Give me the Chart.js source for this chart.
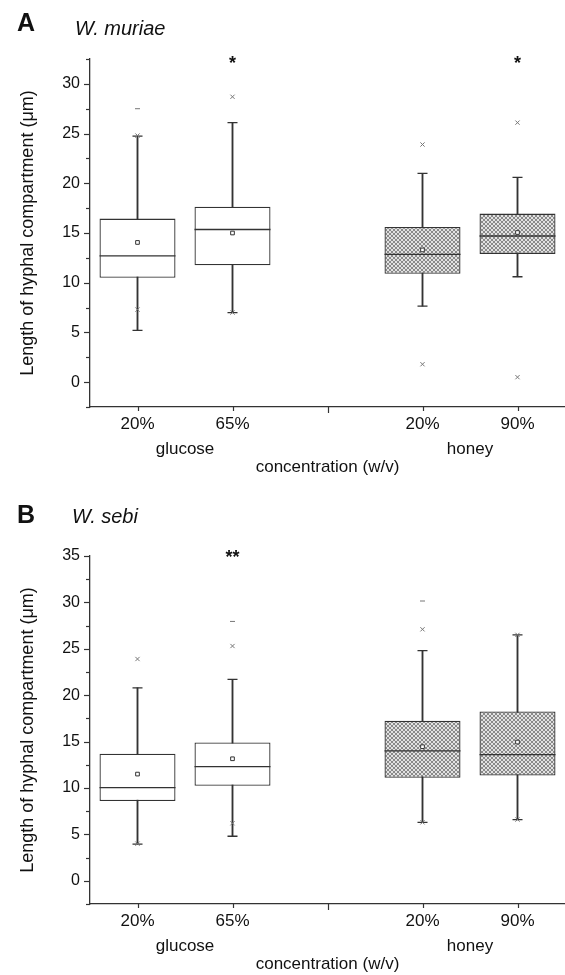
<!DOCTYPE html>
<html>
<head>
<meta charset="utf-8">
<script src="https://cdn.jsdelivr.net/npm/chart.js@4.4.1/dist/chart.umd.min.js"></script>
<style>
  body { margin: 0; background: #fff; }
  #page { position: relative; width: 565px; height: 975px; overflow: hidden;
          font-family: 'Liberation Sans', Arial, sans-serif; color: #111; }
  .panel { position: absolute; left: 0; }
  .letter { position: absolute; left: 17px; font-weight: bold; font-size: 25px; line-height: 1; }
  .species { position: absolute; font-style: italic; font-size: 20px; line-height: 1; }
</style>
</head>
<body>
<div id="page">
  <canvas id="chartA" class="panel" width="565" height="490" style="top:0"></canvas>
  <canvas id="chartB" class="panel" width="565" height="485" style="top:490px"></canvas>
  <div class="letter" style="top:10px">A</div>
  <div class="species" style="left:75px; top:18px">W. muriae</div>
  <div class="letter" style="top:502px">B</div>
  <div class="species" style="left:72px; top:506px">W. sebi</div>
</div>
<script>
const categories = ['20%', '65%', '', '20%', '90%']
const groupNames = ['glucose', 'honey']
const groupSpans = [[0, 1], [3, 4]]
const xTitle = 'concentration (w/v)'
const yTitle = 'Length of hyphal compartment (\u03bcm)'

// W. muriae
const muriaeQ1 = [10.5, 11.75, null, 10.9, 12.9]
const muriaeQ3 = [16.45, 17.65, null, 15.6, 16.95]
const muriaeMedian = [12.7, 15.35, null, 12.85, 14.7]
const muriaeMean = [14.05, 15.0, null, 13.3, 15.05]
const muriaeLow = [5.2, 7.0, null, 7.65, 10.6]
const muriaeHigh = [24.75, 26.1, null, 21.0, 20.6]
const muriaeP1 = [7.3, 7.0, null, 1.8, 0.5]
const muriaeP99 = [24.8, 28.7, null, 23.9, 26.1]
const muriaeMax = [27.5, null, null, null, null]
const muriaeStars = ['', '*', '', '', '*']
const muriaeStarLevel = 32.4
const muriaeYRange = [-2.5, 32.5]
const muriaeYLabels = [0, 5, 10, 15, 20, 25, 30]

// W. sebi
const sebiQ1 = [8.6, 10.25, null, 11.1, 11.35]
const sebiQ3 = [13.7, 14.9, null, 17.25, 18.25]
const sebiMedian = [10.05, 12.3, null, 14.0, 13.6]
const sebiMean = [11.5, 13.15, null, 14.45, 14.95]
const sebiLow = [3.95, 4.8, null, 6.3, 6.6]
const sebiHigh = [20.8, 21.7, null, 24.8, 26.5]
const sebiP1 = [4.0, 6.2, null, 6.3, 6.6]
const sebiP99 = [23.9, 25.3, null, 27.1, 26.5]
const sebiMax = [null, 27.95, null, 30.15, null]
const sebiStars = ['', '**', '', '', '']
const sebiStarLevel = 35.2
const sebiYRange = [-2.5, 35]
const sebiYLabels = [0, 5, 10, 15, 20, 25, 30, 35]

const FONT = '"Liberation Sans", Arial, sans-serif'
const INK = '#333'

function makeHatch() {
    const c = document.createElement('canvas')
    c.width = 4
    c.height = 4
    const g = c.getContext('2d')
    g.fillStyle = '#e2e2e2'
    g.fillRect(0, 0, 4, 4)
    g.fillStyle = '#8a8a8a'
    for (let i = 0; i < 4; i++) {
        g.fillRect(i, i, 1, 1)
        g.fillRect(3 - i, i, 1, 1)
    }
    return g.createPattern(c, 'repeat')
}

// ticks, group names under the axis and significance stars
const boxExtras = {
    id: 'boxExtras',
    afterDraw(chart, args, opts) {
        const {ctx, chartArea} = chart
        const x = chart.scales.x
        const y = chart.scales.y
        ctx.save()
        ctx.strokeStyle = INK
        ctx.lineWidth = 1.2
        for (const t of y.ticks) {
            const py = Math.round(y.getPixelForValue(t.value)) + 0.5
            const len = opts.yLabels.includes(t.value) ? 6 : 4
            ctx.beginPath()
            ctx.moveTo(chartArea.left - len, py)
            ctx.lineTo(chartArea.left, py)
            ctx.stroke()
        }
        categories.forEach((c, i) => {
            const px = Math.round(x.getPixelForValue(i)) + 0.5
            ctx.beginPath()
            ctx.moveTo(px, chartArea.bottom)
            ctx.lineTo(px, chartArea.bottom + (c ? 4 : 6))
            ctx.stroke()
        })
        ctx.fillStyle = '#111'
        ctx.font = '17px ' + FONT
        ctx.textAlign = 'center'
        ctx.textBaseline = 'alphabetic'
        groupNames.forEach((name, k) => {
            const [a, b] = groupSpans[k]
            const px = (x.getPixelForValue(a) + x.getPixelForValue(b)) / 2
            ctx.fillText(name, px, chartArea.bottom + 47)
        })
        ctx.font = 'bold 18px ' + FONT
        ctx.textBaseline = 'middle'
        opts.stars.forEach((s, i) => {
            if (s) ctx.fillText(s, x.getPixelForValue(i), y.getPixelForValue(opts.starLevel) + 4)
        })
        ctx.restore()
    }
}

function boxPanel(id, d) {
    const canvas = document.getElementById(id)
    const H = canvas.height
    const hatch = makeHatch()
    const honey = groupSpans[1]
    const fills = categories.map((c, i) => (i >= honey[0] && i <= honey[1]) ? hatch : '#fff')
    const pair = (a, b) => a.map((v, i) => v == null ? null : [v, b[i]])
    const marks = (data, style, radius, extra) => Object.assign({
        type: 'line', data: data, showLine: false, pointStyle: style,
        pointRadius: radius, pointBorderColor: INK, pointBorderWidth: 1.2,
        pointBackgroundColor: 'transparent', order: 0
    }, extra || {})

    return new Chart(canvas, {
        type: 'bar',
        data: {
            labels: categories,
            datasets: [
                marks(d.p1, 'crossRot', 3, {pointBorderColor: '#777', pointBorderWidth: 1}),
                marks(d.p99, 'crossRot', 3, {pointBorderColor: '#777', pointBorderWidth: 1}),
                marks(d.max, 'line', 2.5, {pointBorderColor: '#777', pointBorderWidth: 1}),
                marks(d.mean, 'rect', 2.6, {pointBackgroundColor: '#fff', pointBorderWidth: 1}),
                marks(d.median, 'line', 38, {pointBorderWidth: 1.3, order: 1}),
                marks(d.low, 'line', 5, {pointBorderWidth: 1.3, order: 1}),
                marks(d.high, 'line', 5, {pointBorderWidth: 1.3, order: 1}),
                {
                    data: pair(d.q1, d.q3),
                    backgroundColor: fills,
                    borderColor: INK,
                    borderWidth: 1.3,
                    borderSkipped: false,
                    barPercentage: 0.8,
                    categoryPercentage: 1,
                    grouped: false,
                    order: 2
                },
                {
                    data: pair(d.low, d.high),
                    backgroundColor: INK,
                    borderWidth: 0,
                    barThickness: 1.2,
                    grouped: false,
                    order: 3
                }
            ]
        },
        options: {
            responsive: false,
            animation: false,
            events: [],
            layout: {autoPadding: false, padding: {top: d.top, left: 0, right: 0, bottom: 0}},
            plugins: {
                legend: {display: false},
                tooltip: {enabled: false},
                boxExtras: {yLabels: d.yLabels, stars: d.stars, starLevel: d.starLevel}
            },
            scales: {
                x: {
                    type: 'category',
                    offset: true,
                    grid: {display: false, drawTicks: false, offset: false},
                    border: {color: INK, width: 1.3},
                    ticks: {padding: 7, color: '#111', font: {family: FONT, size: 17}, maxRotation: 0, autoSkip: false},
                    title: {display: true, text: xTitle, color: '#111', font: {family: FONT, size: 17},
                            padding: {top: 0, bottom: d.titlePad}},
                    afterFit: s => {
                        s.height = H - d.axisY
                        s.paddingLeft = 0
                        s.paddingRight = 0
                    }
                },
                y: {
                    min: d.yRange[0],
                    max: d.yRange[1],
                    grid: {display: false, drawTicks: false},
                    border: {color: INK, width: 1.3},
                    ticks: {
                        stepSize: 2.5, padding: 10, autoSkip: false, color: '#111',
                        font: {family: FONT, size: 16},
                        callback: v => d.yLabels.includes(v) ? String(v) : ''
                    },
                    title: {display: true, text: yTitle, color: '#111', font: {family: FONT, size: 18},
                            padding: {top: 17, bottom: 0}},
                    afterFit: s => { s.width = 90 }
                }
            }
        },
        plugins: [boxExtras]
    })
}

boxPanel('chartA', {
    q1: muriaeQ1, q3: muriaeQ3, median: muriaeMedian, mean: muriaeMean,
    low: muriaeLow, high: muriaeHigh, p1: muriaeP1, p99: muriaeP99, max: muriaeMax,
    stars: muriaeStars, starLevel: muriaeStarLevel, yRange: muriaeYRange, yLabels: muriaeYLabels,
    top: 59, axisY: 407, titlePad: 12
})
boxPanel('chartB', {
    q1: sebiQ1, q3: sebiQ3, median: sebiMedian, mean: sebiMean,
    low: sebiLow, high: sebiHigh, p1: sebiP1, p99: sebiP99, max: sebiMax,
    stars: sebiStars, starLevel: sebiStarLevel, yRange: sebiYRange, yLabels: sebiYLabels,
    top: 66, axisY: 414, titlePad: 0
})
</script>
</body>
</html>
